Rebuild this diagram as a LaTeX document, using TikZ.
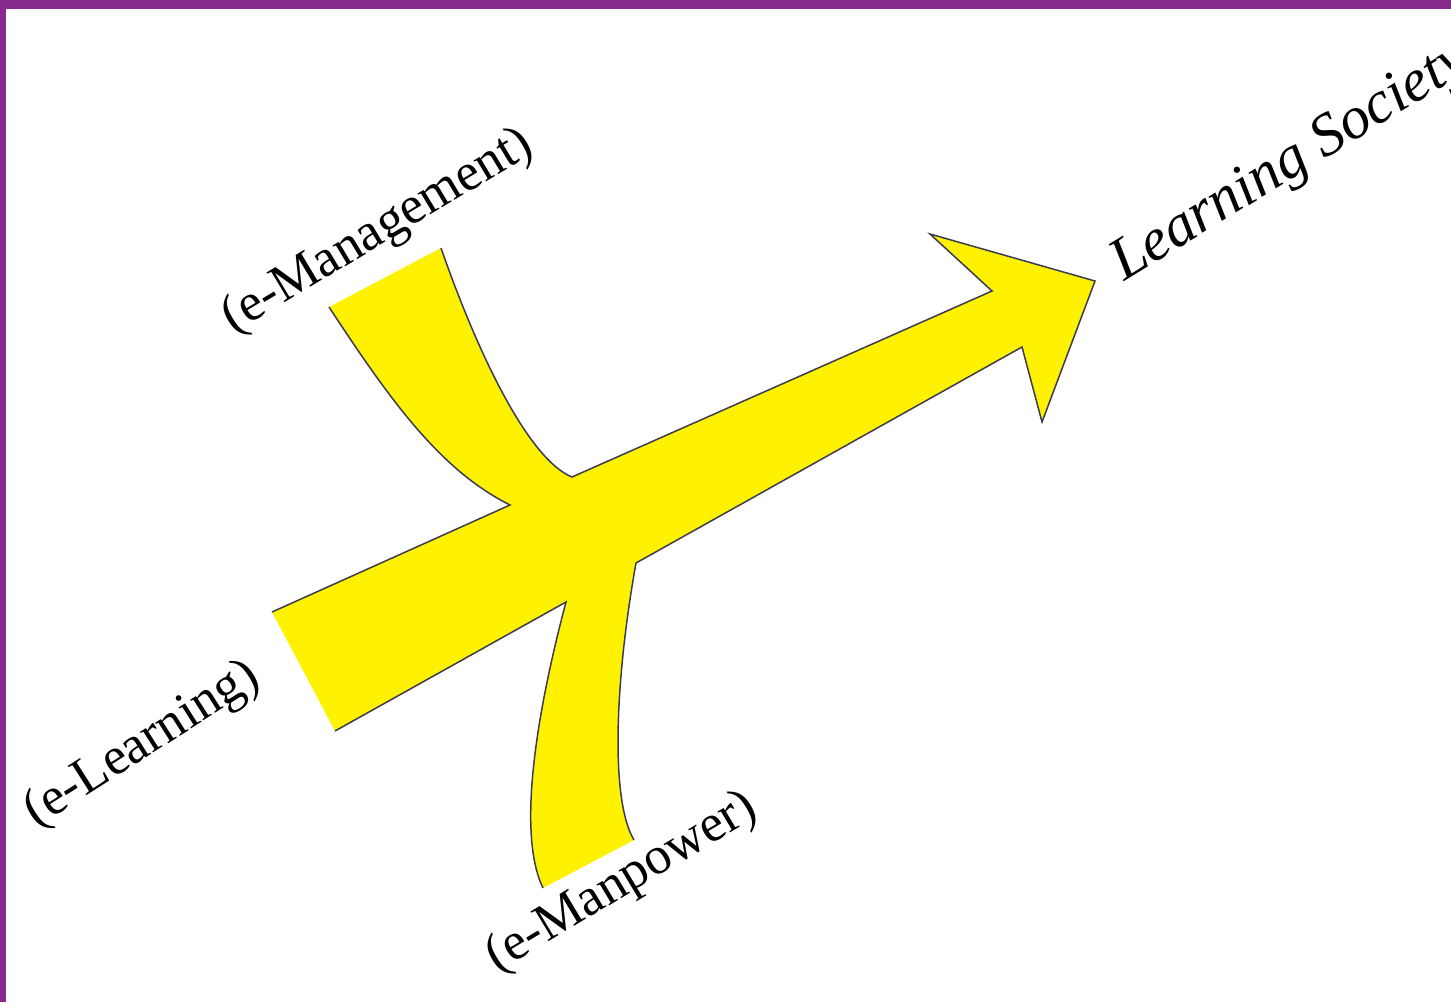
\documentclass[tikz,border=0pt]{standalone}
\usepackage{fontspec}
\setmainfont{Liberation Serif}
\definecolor{purp}{RGB}{134,42,142}
\definecolor{yel}{RGB}{255,242,0}
\definecolor{edge}{RGB}{60,60,80}
\tikzset{
  lbl/.style={inner sep=0pt, anchor=base west, font=\fontsize{53}{58}\selectfont},
  outline/.style={draw=edge, line width=1.5pt, line join=miter}
}
\begin{document}
\begin{tikzpicture}[x=1pt,y=-1pt]
\useasboundingbox (0,0) rectangle (1451,1002);
\begin{scope}
\clip (0,0) rectangle (1451,1002);
% yellow shape
\fill[yel] (272,612) -- (510,505) .. controls (440,470) and (390,400) .. (329,307)
  -- (441,248) .. controls (480,360) and (530,460) .. (572,477)
  -- (992,291) -- (930,234) -- (1095,281) -- (1042,422) -- (1022,347)
  -- (636,563) .. controls (615,680) and (610,800) .. (634,840)
  -- (543,888) .. controls (515,830) and (540,700) .. (566,602)
  -- (335,731) -- cycle;
\draw[outline] (272,612) -- (510,505) .. controls (440,470) and (390,400) .. (329,307);
\draw[outline] (441,248) .. controls (480,360) and (530,460) .. (572,477)
  -- (992,291) -- (930,234) -- (1095,281) -- (1042,422) -- (1022,347)
  -- (636,563) .. controls (615,680) and (610,800) .. (634,840);
\draw[outline] (543,888) .. controls (515,830) and (540,700) .. (566,602) -- (335,731);
% labels
\node[lbl, rotate=31] (mgmt) at (233,334) {(e-Management)};
\node[lbl, rotate=31.5, font=\fontsize{60}{66}\selectfont\itshape] (soc) at (1124,282) {Learning Society};
\node[lbl, rotate=32.5] (elearn) at (36,828) {(e-Learning)};
\node[lbl, rotate=31] (manp) at (497,973) {(e-Manpower)};
% border
\fill[purp] (0,0) rectangle (1451,9);
\fill[purp] (0,0) rectangle (6,1002);
\end{scope}
\end{tikzpicture}
\end{document}
